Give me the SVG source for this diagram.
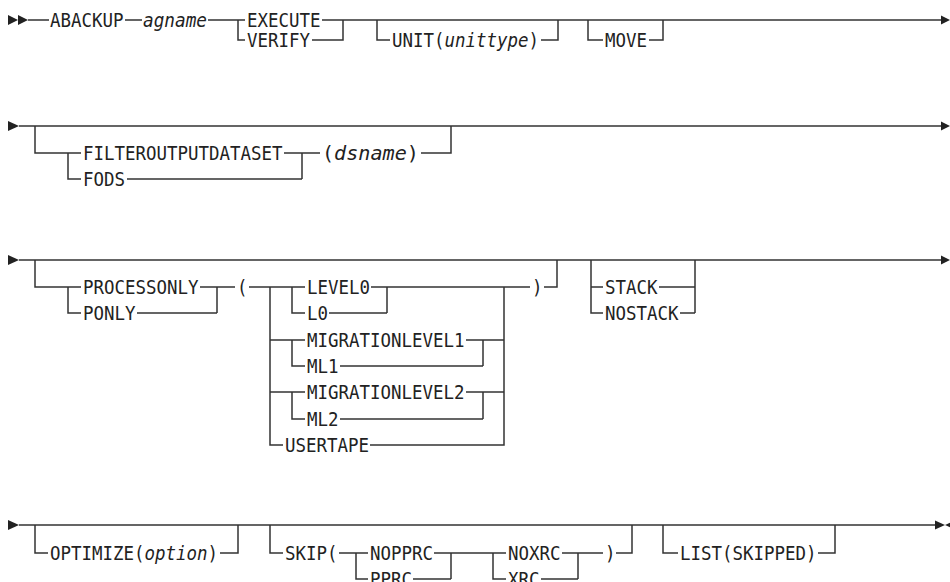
<svg xmlns="http://www.w3.org/2000/svg" width="950" height="582" viewBox="0 0 950 582">
<style>
.t{font-family:"DejaVu Sans Mono","Liberation Mono",monospace;font-size:19.5px;fill:#222}
.i{font-style:italic}
.c{fill:none;stroke:#333;stroke-width:1.5}
.a{fill:#222;stroke:none}
</style>
<rect width="950" height="582" fill="#fff"/>
<g id="connectors">
<path class="c" d="M28 20 H49 M125 20 H142 M208 20 H245 M322 20 H941 M238 20 V40 H245 M312 40 H343 V20 M377 20 V40 H390 M541 40 H558 V20 M588 20 V40 H603 M649 40 H663 V20"/>
<path class="c" d="M19 126 H941 M35 126 V153 H81 M68 153 V179 H81 M284 153 H320 M302 153 V179 M127 179 H302 M421 153 H451 V126"/>
<path class="c" d="M19 260 H941 M35 260 V287 H81 M68 287 V313 H81 M200 287 H235 M217 287 V313 M137 313 H217 M249 287 H305 M270 287 V445 H283 M292 287 V313 H305 M371 287 H530 M387 287 V313 M329 313 H387 M270 340 H305 M292 340 V366 H305 M466 340 H504 M483 340 V366 M340 366 H483 M270 392 H305 M292 392 V419 H305 M466 392 H504 M483 392 V419 M340 419 H483 M370 445 H504 V287 M544 287 H557 V260 M591 260 V313 H603 M591 287 H603 M659 287 H695 M680 313 H695 M695 260 V313"/>
<path class="c" d="M19 525 H936 M35 525 V553 H48 M220 553 H238 V525 M270 525 V553 H283 M339 553 H368 M356 553 V579 H368 M434 553 H506 M451 553 V579 M413 579 H451 M493 553 V579 H506 M562 553 H603 M578 553 V579 M541 579 H578 M616 553 H632 V525 M663 525 V553 H678 M818 553 H835 V525"/>
<polygon class="a" points="8,15 18,20 8,25"/>
<polygon class="a" points="18,15 28,20 18,25"/>
<polygon class="a" points="941,15.5 950,20 941,24.5"/>
<polygon class="a" points="8,121 19,126 8,131"/>
<polygon class="a" points="941,121.5 950,126 941,130.5"/>
<polygon class="a" points="8,255 19,260 8,265"/>
<polygon class="a" points="941,255.5 950,260 941,264.5"/>
<polygon class="a" points="8,520 19,525 8,530"/>
<polygon class="a" points="935,520.5 945,525 935,529.5"/>
<polygon class="a" points="955,520.5 945,525 955,529.5"/>
</g>
<g id="n-abackup"><text class="t" x="50" y="27" textLength="73.5" lengthAdjust="spacingAndGlyphs">ABACKUP</text></g>
<g id="n-agname"><text class="t i" x="143" y="27" textLength="64" lengthAdjust="spacingAndGlyphs">agname</text></g>
<g id="n-execute"><text class="t" x="247" y="27" textLength="73.5" lengthAdjust="spacingAndGlyphs">EXECUTE</text></g>
<g id="n-verify"><text class="t" x="247" y="47" textLength="63" lengthAdjust="spacingAndGlyphs">VERIFY</text></g>
<g id="n-unit"><text class="t" x="392" y="47" textLength="147" lengthAdjust="spacingAndGlyphs">UNIT(<tspan class="i">unittype</tspan>)</text></g>
<g id="n-move"><text class="t" x="605" y="47" textLength="42" lengthAdjust="spacingAndGlyphs">MOVE</text></g>
<g id="n-filter"><text class="t" x="83" y="160" textLength="199.5" lengthAdjust="spacingAndGlyphs">FILTEROUTPUTDATASET</text></g>
<g id="n-fods"><text class="t" x="83" y="186" textLength="42" lengthAdjust="spacingAndGlyphs">FODS</text></g>
<g id="n-dsname"><text class="t" x="322" y="160" textLength="97" lengthAdjust="spacingAndGlyphs">(<tspan class="i">dsname</tspan>)</text></g>
<g id="n-processonly"><text class="t" x="83" y="294" textLength="115.5" lengthAdjust="spacingAndGlyphs">PROCESSONLY</text></g>
<g id="n-ponly"><text class="t" x="83" y="320" textLength="52.5" lengthAdjust="spacingAndGlyphs">PONLY</text></g>
<g id="n-lparen"><text class="t" x="237" y="294" textLength="10.5" lengthAdjust="spacingAndGlyphs">(</text></g>
<g id="n-level0"><text class="t" x="307" y="294" textLength="63" lengthAdjust="spacingAndGlyphs">LEVEL0</text></g>
<g id="n-l0"><text class="t" x="307" y="320" textLength="21" lengthAdjust="spacingAndGlyphs">L0</text></g>
<g id="n-ml1long"><text class="t" x="307" y="347" textLength="157.5" lengthAdjust="spacingAndGlyphs">MIGRATIONLEVEL1</text></g>
<g id="n-ml1"><text class="t" x="307" y="373" textLength="31.5" lengthAdjust="spacingAndGlyphs">ML1</text></g>
<g id="n-ml2long"><text class="t" x="307" y="399" textLength="157.5" lengthAdjust="spacingAndGlyphs">MIGRATIONLEVEL2</text></g>
<g id="n-ml2"><text class="t" x="307" y="426" textLength="31.5" lengthAdjust="spacingAndGlyphs">ML2</text></g>
<g id="n-usertape"><text class="t" x="285" y="452" textLength="84" lengthAdjust="spacingAndGlyphs">USERTAPE</text></g>
<g id="n-rparen"><text class="t" x="532" y="294" textLength="10.5" lengthAdjust="spacingAndGlyphs">)</text></g>
<g id="n-stack"><text class="t" x="605" y="294" textLength="52.5" lengthAdjust="spacingAndGlyphs">STACK</text></g>
<g id="n-nostack"><text class="t" x="605" y="320" textLength="73.5" lengthAdjust="spacingAndGlyphs">NOSTACK</text></g>
<g id="n-optimize"><text class="t" x="50" y="560" textLength="168" lengthAdjust="spacingAndGlyphs">OPTIMIZE(<tspan class="i">option</tspan>)</text></g>
<g id="n-skip"><text class="t" x="285" y="560" textLength="52.5" lengthAdjust="spacingAndGlyphs">SKIP(</text></g>
<g id="n-nopprc"><text class="t" x="370" y="560" textLength="63" lengthAdjust="spacingAndGlyphs">NOPPRC</text></g>
<g id="n-pprc"><text class="t" x="370" y="586" textLength="42" lengthAdjust="spacingAndGlyphs">PPRC</text></g>
<g id="n-noxrc"><text class="t" x="508" y="560" textLength="52.5" lengthAdjust="spacingAndGlyphs">NOXRC</text></g>
<g id="n-xrc"><text class="t" x="508" y="586" textLength="31.5" lengthAdjust="spacingAndGlyphs">XRC</text></g>
<g id="n-skiprparen"><text class="t" x="605" y="560" textLength="10.5" lengthAdjust="spacingAndGlyphs">)</text></g>
<g id="n-list"><text class="t" x="680" y="560" textLength="136.5" lengthAdjust="spacingAndGlyphs">LIST(SKIPPED)</text></g>
</svg>
